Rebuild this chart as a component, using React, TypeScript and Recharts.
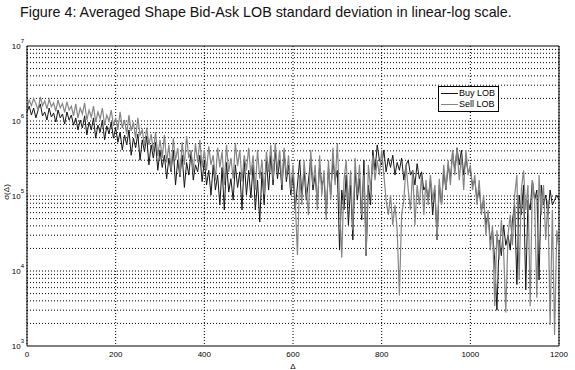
import React from 'react';
import { LineChart, Line, XAxis, YAxis, CartesianGrid, ReferenceLine } from 'recharts';

const FONT = '"Liberation Sans", Arial, sans-serif';
const BUY_COLOR = '#141414';
const SELL_COLOR = '#858585';

// samples every 5 ticks of Δ, 0..1200
const DELTA_STEP = 5;

const SELL_LOB = [
  1.5e6, 1.9e6, 1.6e6, 2.0e6, 1.7e6, 1.4e6, 2.1e6, 1.6e6, 1.85e6, 1.45e6, 1.95e6, 1.55e6, 1.75e6, 1.35e6, 1.9e6, 1.5e6, 1.7e6, 1.3e6, 1.8e6, 1.4e6,
  1.58e6, 1.17e6, 1.69e6, 1.1e6, 1.49e6, 1.24e6, 1.74e6, 1.03e6, 1.4e6, 1.13e6, 1.58e6, 9.7e5, 1.32e6, 1.07e6, 1.49e6, 8.8e5, 1.2e6, 1.0e6, 1.4e6, 8.6e5,
  1.1e6, 7.6e5, 1.32e6, 8.1e5, 1.03e6, 6.7e5, 1.2e6, 7.4e5, 9.7e5, 5.9e5, 1.1e6, 6.5e5, 7.6e5, 4.6e5, 8.1e5, 4.8e5, 6.7e5, 3.9e5, 7.1e5, 3.4e5,
  5.6e5, 3.2e5, 6.5e5, 2.8e5, 4.8e5, 2.2e5, 5.9e5, 3.0e5, 4.4e5, 1.9e5, 5.2e5, 2.6e5, 6.3e5, 3.2e5, 4.1e5, 2.1e5, 5.0e5, 2.8e5, 5.6e5, 2.4e5,
  4.1e5, 2.2e5, 4.6e5, 2.6e5, 3.5e5, 1.63e5, 4.4e5, 2.4e5, 3.9e5, 1.4e5, 4.8e5, 2.1e5, 3.2e5, 1.7e5, 5.1e5, 2.5e5, 4.1e5, 1.55e5, 3.5e5, 2.2e5,
  4.4e5, 1.9e5, 3.5e5, 1.2e5, 4.1e5, 1.7e5, 3.0e5, 1.05e5, 3.9e5, 2.1e5, 4.8e5, 1.63e5, 5.1e5, 2.2e5, 4.1e5, 1.4e5, 4.4e5, 1.8e5, 3.5e5, 1.2e5,
  2.6e5, 8.8e4, 1.63e4, 1.9e5, 7.6e4, 3.0e5, 1.2e5, 5.6e4, 4.1e5, 1.4e5, 2.6e5, 6.5e4, 3.5e5, 1.03e5, 2.2e5, 4.8e4, 3.0e5, 8.8e4, 4.4e5, 1.4e5,
  5.1e5, 8.8e4, 1.5e4, 1.63e5, 3.0e5, 7.6e4, 2.2e5, 3.5e4, 3.2e5, 1.03e5, 2.6e5, 5.6e4, 1.9e5, 1.6e4, 2.6e5, 1.2e5, 3.5e5, 1.63e5, 3.0e5, 1.9e5,
  4.1e5, 1.9e5, 8.8e4, 5.6e4, 1.03e5, 4.1e4, 7.6e4, 3.5e4, 4.7e3, 5.6e4, 8.8e4, 2.6e5, 1.2e5, 6.5e4, 2.2e5, 4.1e4, 1.4e5, 7.6e4, 1.9e5, 5.6e4,
  1.63e5, 7.6e4, 1.9e5, 8.8e4, 1.4e5, 2.6e4, 1.7e5, 7.6e4, 2.6e5, 1.2e5, 3.0e5, 1.4e5, 4.1e5, 1.9e5, 4.4e5, 1.63e5, 3.5e5, 1.2e5, 4.1e5, 1.9e5,
  2.6e5, 1.2e5, 1.9e5, 7.6e4, 1.63e5, 5.6e4, 1.03e5, 3.0e4, 6.5e4, 1.9e4, 4.1e4, 3.4e3, 3.5e4, 1.4e4, 4.8e4, 1.9e4, 2.8e3, 3.0e4, 5.6e4, 2.2e4,
  1.03e5, 1.9e5, 7.6e3, 1.2e5, 2.2e5, 6.5e4, 1.4e5, 3.4e3, 1.63e5, 8.8e4, 4.4e3, 1.9e5, 5.6e4, 1.4e5, 2.6e4, 8.8e4, 1.9e3, 6.5e4, 1.4e3, 3.5e4, 1.9e4,
];

const BUY_LOB = [
  1.32e6, 1.58e6, 1.2e6, 1.49e6, 1.1e6, 1.4e6, 1.69e6, 1.17e6, 1.32e6, 1.03e6, 1.49e6, 1.13e6, 1.28e6, 9.7e5, 1.4e6, 1.1e6, 1.24e6, 9.1e5, 1.32e6, 1.03e6,
  1.2e6, 8.8e5, 1.1e6, 7.6e5, 1.03e6, 8.1e5, 1.17e6, 6.5e5, 9.7e5, 7.6e5, 1.1e6, 5.9e5, 8.8e5, 7.1e5, 1.03e6, 5.6e5, 8.6e5, 6.7e5, 9.7e5, 5.9e5,
  8.1e5, 5.2e5, 7.1e5, 4.1e5, 6.5e5, 4.8e5, 7.6e5, 3.5e5, 5.9e5, 4.4e5, 6.7e5, 3.0e5, 5.6e5, 3.9e5, 6.3e5, 2.6e5, 4.8e5, 3.2e5, 5.2e5, 2.2e5,
  4.1e5, 2.4e5, 3.5e5, 1.7e5, 3.2e5, 2.1e5, 4.1e5, 1.4e5, 3.0e5, 1.8e5, 3.5e5, 1.3e5, 2.8e5, 1.9e5, 3.9e5, 1.63e5, 2.6e5, 2.1e5, 3.5e5, 1.55e5,
  3.0e5, 1.4e5, 2.2e5, 1.03e5, 2.6e5, 1.2e5, 1.9e5, 7.6e4, 2.4e5, 6.5e4, 2.8e5, 1.13e5, 1.7e5, 8.8e4, 2.6e5, 1.3e5, 2.1e5, 6.5e4, 3.0e5, 1.03e5,
  2.2e5, 9.4e4, 2.6e5, 6.5e4, 1.63e5, 4.5e4, 2.1e5, 7.6e4, 3.0e5, 1.2e5, 3.5e5, 1.4e5, 4.1e5, 1.7e5, 3.0e5, 1.2e5, 3.9e5, 1.55e5, 2.6e5, 1.03e5,
  1.9e5, 6.5e4, 1.4e5, 3.0e5, 1.03e5, 2.2e5, 8.8e4, 1.63e5, 3.2e5, 1.2e5, 1.9e5, 7.6e4, 2.6e5, 1.4e5, 1.7e5, 5.6e4, 2.4e5, 1.03e5, 3.0e5, 1.63e5,
  2.2e5, 1.9e4, 1.2e5, 6.5e4, 1.9e5, 4.1e4, 1.4e5, 2.6e4, 2.2e5, 8.8e4, 1.7e5, 4.8e4, 3.0e5, 1.6e4, 1.4e5, 7.6e4, 4.1e5, 2.2e5, 4.8e5, 3.0e5,
  2.6e5, 4.1e5, 2.1e5, 3.2e5, 2.4e5, 3.5e5, 1.9e5, 2.8e5, 2.2e5, 3.2e5, 1.63e5, 2.6e5, 3.0e5, 1.9e5, 2.2e5, 1.4e5, 2.7e5, 1.7e5, 2.1e5, 1.2e5,
  1.4e5, 8.8e4, 1.7e5, 5.6e4, 1.2e5, 2.6e4, 1.4e5, 7.6e4, 2.2e5, 1.2e5, 2.6e5, 1.63e5, 3.9e5, 2.2e5, 4.4e5, 2.6e5, 4.1e5, 1.9e5, 3.2e5, 2.1e5,
  2.2e5, 1.4e5, 1.63e5, 8.8e4, 1.2e5, 6.5e4, 8.8e4, 4.1e4, 5.6e4, 2.6e4, 3.5e4, 1.4e4, 3.0e3, 2.6e4, 1.6e4, 4.1e4, 2.2e4, 3.0e4, 1.9e4, 4.8e4,
  7.6e4, 6.6e3, 1.03e5, 5.6e4, 1.4e5, 5.6e3, 8.8e4, 6.5e4, 1.63e5, 8.8e4, 1.2e5, 7.6e3, 1.4e5, 7.6e4, 1.03e5, 5.6e4, 1.2e5, 7.6e4, 8.8e4, 1.03e5, 8.8e4,
];

const X_TICKS = [0, 200, 400, 600, 800, 1000, 1200];
const Y_DECADES = [1e3, 1e4, 1e5, 1e6, 1e7];
const MINOR_MANTISSAS = [1, 2, 3, 4, 5, 6, 7, 8, 9];

const SERIES = [
  { key: 'buy', name: 'Buy LOB', color: BUY_COLOR, width: 1 },
  { key: 'sell', name: 'Sell LOB', color: SELL_COLOR, width: 1.2 },
];

const data = SELL_LOB.map((s, i) => ({ delta: i * DELTA_STEP, buy: BUY_LOB[i], sell: s }));

// dotted lines at every log tick inside the box
const gridValues: number[] = [];
Y_DECADES.slice(0, -1).forEach((d) => {
  MINOR_MANTISSAS.forEach((m) => {
    if (m * d > 1e3) gridValues.push(m * d);
  });
});

const YTick = ({ x, y, payload }: any) => {
  const exp = Math.round(Math.log10(payload.value));
  return (
    <text x={x} y={y} textAnchor="end" fontSize={8} fontFamily={FONT} fill="#000">
      <tspan dy={3}>10</tspan>
      <tspan dy={-6} fontSize={6}>{exp}</tspan>
    </text>
  );
};

const YLabel = () => (
  <text x={9} y={192} transform="rotate(-90 9 192)" textAnchor="middle" fontSize={8} fontFamily={FONT} fill="#000">
    σ(Δ)
  </text>
);

const LegendBox = () => (
  <div
    style={{
      position: 'absolute',
      left: 438,
      top: 86,
      width: 57,
      border: '1px solid #000',
      background: '#fff',
      padding: '1px 0 1px 2px',
      fontFamily: FONT,
      fontSize: 9,
      lineHeight: '11px',
    }}
  >
    {SERIES.map((s) => (
      <div key={s.key} style={{ display: 'flex', alignItems: 'center' }}>
        <span style={{ display: 'inline-block', width: 17, borderTop: `1px solid ${s.color}`, marginRight: 1 }} />
        {s.name}
      </div>
    ))}
  </div>
);

export default function App() {
  return (
    <div style={{ position: 'relative', width: 575, height: 370, background: '#fff' }}>
      <style>{'body{margin:0}'}</style>
      <div
        style={{
          position: 'absolute',
          left: 20,
          top: 4,
          fontFamily: FONT,
          fontSize: 14.3,
          color: '#111',
          whiteSpace: 'nowrap',
        }}
      >
        Figure 4: Averaged Shape Bid-Ask LOB standard deviation in linear-log scale.
      </div>
      <LineChart width={575} height={370} data={data} margin={{ top: 46, right: 16, bottom: 0, left: 0 }}>
        <CartesianGrid horizontal={false} stroke="#000" strokeDasharray="1 2" />
        {gridValues.map((v) => (
          <ReferenceLine key={v} y={v} stroke="#000" strokeDasharray="1 2" />
        ))}
        <ReferenceLine y={1e7} stroke="#000" />
        <ReferenceLine x={1200} stroke="#000" />
        <XAxis
          type="number"
          dataKey="delta"
          domain={[0, 1200]}
          ticks={X_TICKS}
          height={24}
          stroke="#000"
          tickLine={false}
          tickSize={0}
          tickMargin={5}
          tick={{ fontSize: 8, fontFamily: FONT, fill: '#000' }}
          label={{ value: 'Δ', position: 'insideBottom', offset: 1, fontSize: 8, fontFamily: FONT, fill: '#000' }}
        />
        <YAxis
          scale="log"
          domain={[1e3, 1e7]}
          ticks={Y_DECADES}
          allowDataOverflow
          width={27}
          stroke="#000"
          tickLine={false}
          tickSize={0}
          tickMargin={3}
          tick={<YTick />}
          label={{ content: <YLabel /> }}
        />
        {SERIES.map((s) => (
          <Line
            key={s.key}
            dataKey={s.key}
            name={s.name}
            stroke={s.color}
            strokeWidth={s.width}
            dot={false}
            isAnimationActive={false}
          />
        ))}
      </LineChart>
      <LegendBox />
    </div>
  );
}
